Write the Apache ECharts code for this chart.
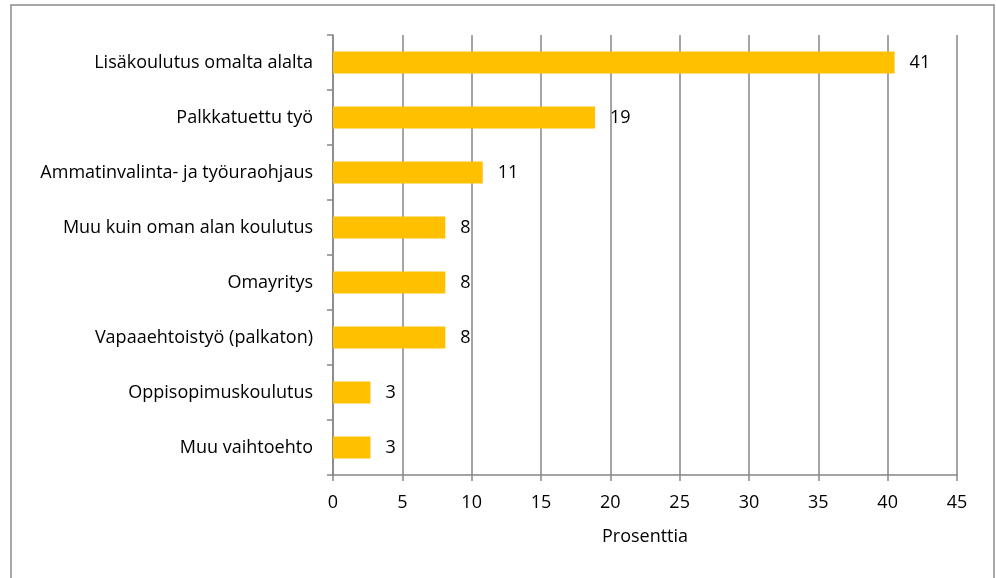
<!DOCTYPE html>
<html>
<head>
<meta charset="utf-8">
<script src="https://cdn.jsdelivr.net/npm/echarts@6/dist/echarts.min.js"></script>
<style>
  html, body { margin: 0; padding: 0; background: #fff; }
  #bar { width: 996px; height: 578px; }
</style>
</head>
<body>
<div id="bar"></div>
<script>
// kategoriat ja arvot (%)
var categories = [
    'Lisäkoulutus omalta alalta',
    'Palkkatuettu työ',
    'Ammatinvalinta- ja työuraohjaus',
    'Muu kuin oman alan koulutus',
    'Omayritys',
    'Vapaaehtoistyö (palkaton)',
    'Oppisopimuskoulutus',
    'Muu vaihtoehto'
];
var values = [40.5, 18.9, 10.8, 8.1, 8.1, 8.1, 2.7, 2.7];
var xTicks = [0, 5, 10, 15, 20, 25, 30, 35, 40, 45];

var chart = echarts.init(document.getElementById('bar'));
var font = '"Open Sans", sans-serif';
var gray = '#878787';

chart.setOption({
    animation: false,
    textStyle: { fontFamily: font },
    graphic: [{
        type: 'rect',
        shape: { x: 11, y: 5, width: 983, height: 620 },
        style: { fill: 'none', stroke: '#8c8c8c', lineWidth: 1.5 }
    }],
    grid: { left: 333, right: 39, top: 35, bottom: 103 },
    xAxis: {
        type: 'value',
        min: xTicks[0],
        max: xTicks[xTicks.length - 1],
        interval: 5,
        name: 'Prosenttia',
        nameLocation: 'middle',
        nameGap: 53,
        nameTextStyle: { color: '#000', fontSize: 18, fontFamily: font },
        axisLine: { show: true, lineStyle: { color: gray, width: 1.5 } },
        axisTick: { show: true, length: 6, lineStyle: { color: gray, width: 1.5 } },
        axisLabel: { color: '#000', fontSize: 18, margin: 19, fontFamily: font },
        splitLine: { show: true, lineStyle: { color: gray, width: 1.5 } }
    },
    yAxis: {
        type: 'category',
        data: categories,
        inverse: true,
        axisLine: { show: true, lineStyle: { color: gray, width: 1.5 } },
        axisTick: { show: true, length: 6, lineStyle: { color: gray, width: 1.5 } },
        axisLabel: { color: '#000', fontSize: 18, margin: 20, fontFamily: font },
        splitLine: { show: false }
    },
    series: [{
        type: 'bar',
        data: values,
        barWidth: 22,
        itemStyle: { color: '#FFC000' },
        label: {
            show: true,
            position: 'right',
            distance: 15,
            color: '#000',
            fontSize: 18,
            fontFamily: font,
            formatter: function (p) { return Math.round(p.value); }
        }
    }]
});
</script>
</body>
</html>
